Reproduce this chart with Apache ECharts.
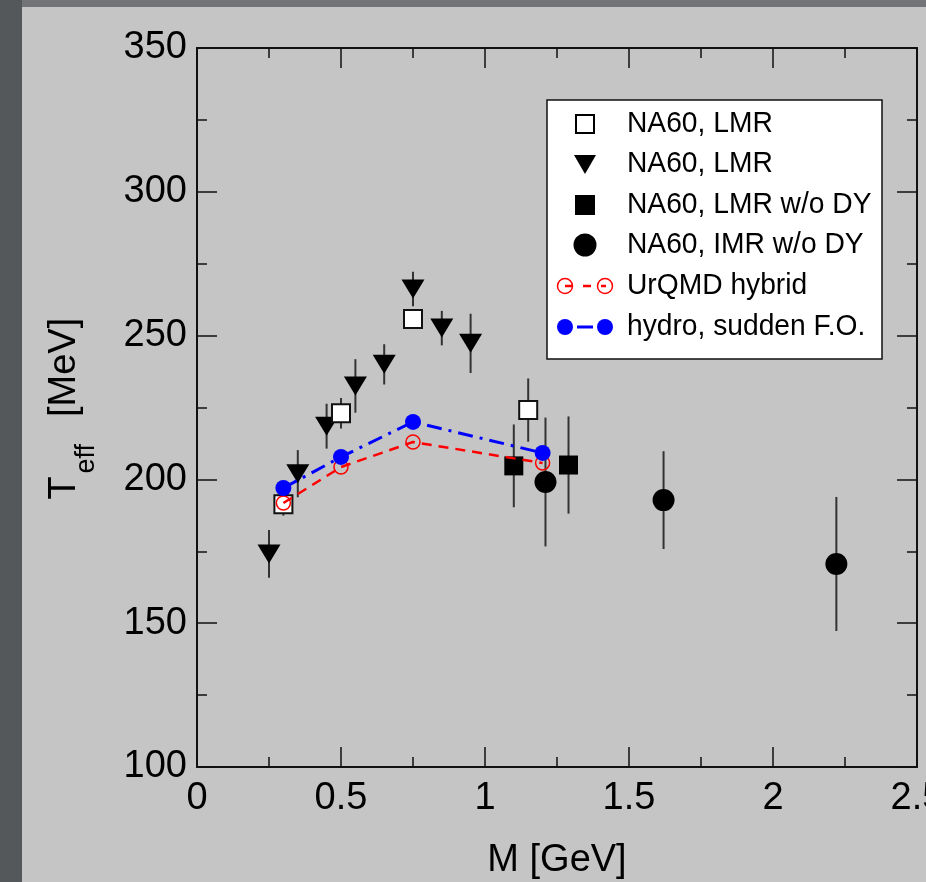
<!DOCTYPE html>
<html>
<head>
<meta charset="utf-8">
<title>Effective temperature vs. dimuon mass</title>
<script src="https://cdn.jsdelivr.net/npm/echarts@6/dist/echarts.min.js"></script>
<style>
  html, body { margin: 0; padding: 0; background: #c4c5c4; }
  #chart { width: 926px; height: 882px; }
</style>
</head>
<body>
<div id="chart"></div>
<script>
// NA60 LMR (open squares)
const lmrOpenM   = [0.30, 0.50, 0.75, 1.15];
const lmrOpenT   = [191.4, 223.0, 255.8, 224.1];
const lmrOpenErr = [4.0, 5.3, 3.0, 11.0];

// NA60 LMR (down triangles)
const lmrTriM   = [0.25, 0.35, 0.45, 0.55, 0.65, 0.75, 0.85, 0.95];
const lmrTriT   = [174.1, 202.0, 218.5, 232.5, 240.0, 266.2, 252.6, 247.3];
const lmrTriErr = [8.3, 8.2, 7.8, 9.3, 7.0, 6.0, 6.0, 10.3];

// NA60 LMR w/o DY (filled squares)
const lmrNoDyM   = [1.10, 1.29];
const lmrNoDyT   = [204.7, 205.0];
const lmrNoDyErr = [14.4, 16.9];

// NA60 IMR w/o DY (filled circles)
const imrNoDyM   = [1.21, 1.62, 2.22];
const imrNoDyT   = [199.1, 192.8, 170.6];
const imrNoDyErr = [22.4, 17.0, 23.3];

// Model curves
const urqmdM = [0.30, 0.50, 0.75, 1.20];
const urqmdT = [191.8, 204.3, 213.0, 205.7];
const hydroM = [0.30, 0.50, 0.75, 1.20];
const hydroT = [197.0, 207.8, 220.0, 209.2];

// Axis ticks
const xTicks = { min: 0, max: 2.5, interval: 0.5 };
const yTicks = { min: 100, max: 350, interval: 50 };

const FONT = '"Liberation Sans", Arial, Helvetica, sans-serif';
const AXIS_COLOR = '#111';

const pairs = (xs, ys) => xs.map((x, i) => [x, ys[i]]);
const bars = (xs, ys, es) => xs.map((x, i) => [x, ys[i] - es[i], ys[i] + es[i]]);

function errorBarSeries(data) {
  return {
    type: 'custom',
    z: 1,
    silent: true,
    data: data,
    encode: { x: 0, y: [1, 2] },
    renderItem: function (params, api) {
      const lo = api.coord([api.value(0), api.value(1)]);
      const hi = api.coord([api.value(0), api.value(2)]);
      return {
        type: 'line',
        shape: { x1: lo[0], y1: lo[1], x2: hi[0], y2: hi[1] },
        style: { stroke: '#333', lineWidth: 2 }
      };
    }
  };
}

function axisCommon(range, pos, showLabel) {
  return {
    type: 'value',
    position: pos,
    min: range.min,
    max: range.max,
    interval: range.interval,
    axisLine: { show: true, onZero: false, lineStyle: { color: AXIS_COLOR, width: 2 } },
    axisTick: { show: true, inside: true, length: 20, lineStyle: { color: AXIS_COLOR, width: 1.5 } },
    minorTick: { show: true, splitNumber: 2, length: 10, lineStyle: { color: AXIS_COLOR, width: 1.5 } },
    splitLine: { show: false },
    minorSplitLine: { show: false },
    axisLabel: { show: showLabel, fontSize: 38, color: '#000', fontFamily: FONT, margin: 10 }
  };
}

const xBottom = axisCommon(xTicks, 'bottom', true);
xBottom.axisLabel.margin = 13;
xBottom.name = 'M [GeV]';
xBottom.nameLocation = 'middle';
xBottom.nameGap = 75;
xBottom.nameTextStyle = { fontSize: 38, color: '#000', fontFamily: FONT };

const yLeft = axisCommon(yTicks, 'left', true);
yLeft.axisLabel.margin = 10;

// Legend rows
const legendX = 547, legendY = 100, legendW = 335, legendH = 259;
const keyX = 585, textX = 627;
const rowY = [124, 164, 205, 245, 286, 327];
const legendLabels = ['NA60, LMR', 'NA60, LMR', 'NA60, LMR w/o DY', 'NA60, IMR w/o DY', 'UrQMD hybrid', 'hydro, sudden F.O.'];

const legendChildren = [
  { type: 'rect', shape: { x: legendX, y: legendY, width: legendW, height: legendH },
    style: { fill: '#fff', stroke: '#111', lineWidth: 1.5 } },
  // open square
  { type: 'rect', shape: { x: keyX - 9, y: rowY[0] - 9, width: 18, height: 18 },
    style: { fill: '#fff', stroke: '#000', lineWidth: 2 } },
  // down triangle
  { type: 'polygon', shape: { points: [[keyX - 11, rowY[1] - 9], [keyX + 11, rowY[1] - 9], [keyX, rowY[1] + 10]] },
    style: { fill: '#000' } },
  // filled square
  { type: 'rect', shape: { x: keyX - 10, y: rowY[2] - 10, width: 20, height: 20 }, style: { fill: '#000' } },
  // filled circle
  { type: 'circle', shape: { cx: keyX, cy: rowY[3], r: 11.5 }, style: { fill: '#000' } },
  // UrQMD key
  { type: 'line', shape: { x1: 565, y1: rowY[4], x2: 606, y2: rowY[4] },
    style: { stroke: '#ff0000', lineWidth: 2.5, lineDash: [8, 10] } },
  { type: 'circle', shape: { cx: 565, cy: rowY[4], r: 7.5 }, style: { fill: null, stroke: '#ff0000', lineWidth: 1.5 } },
  { type: 'circle', shape: { cx: 605, cy: rowY[4], r: 7.5 }, style: { fill: null, stroke: '#ff0000', lineWidth: 1.5 } },
  // hydro key
  { type: 'line', shape: { x1: 577, y1: rowY[5], x2: 593, y2: rowY[5] },
    style: { stroke: '#0000ff', lineWidth: 3 } },
  { type: 'circle', shape: { cx: 565, cy: rowY[5], r: 8 }, style: { fill: '#0000ff' } },
  { type: 'circle', shape: { cx: 605, cy: rowY[5], r: 8 }, style: { fill: '#0000ff' } }
];
legendLabels.forEach(function (label, i) {
  legendChildren.push({
    type: 'text', x: textX, y: rowY[i], scaleX: 0.94,
    style: { text: label, fontSize: 30, fontFamily: FONT, fill: '#000', align: 'left', verticalAlign: 'middle' }
  });
});

const option = {
  backgroundColor: '#c4c5c4',
  animation: false,
  grid: { left: 197, right: 9, top: 48, bottom: 115, containLabel: false, outerBoundsMode: 'none' },
  xAxis: [xBottom, axisCommon(xTicks, 'top', false)],
  yAxis: [yLeft, axisCommon(yTicks, 'right', false)],
  graphic: [
    { type: 'rect', z: -10, shape: { x: 0, y: 0, width: 926, height: 7 }, style: { fill: '#737477' } },
    { type: 'rect', z: -10, shape: { x: 0, y: 0, width: 22, height: 882 }, style: { fill: '#54585b' } },
    // y-axis title: T_eff [MeV]
    {
      type: 'group', x: 70, y: 407.5, rotation: Math.PI / 2,
      children: [
        { type: 'text', x: -92, y: -5, style: { text: 'T', fontSize: 38, fontFamily: FONT, fill: '#000', align: 'left', verticalAlign: 'middle' } },
        { type: 'text', x: -66, y: 17, style: { text: 'eff', fontSize: 27, fontFamily: FONT, fill: '#000', align: 'left', verticalAlign: 'middle' } },
        { type: 'text', x: -9.5, y: -5, style: { text: '[MeV]', fontSize: 38, fontFamily: FONT, fill: '#000', align: 'left', verticalAlign: 'middle' } }
      ]
    },
    { type: 'group', z: 100, children: legendChildren }
  ],
  series: [
    errorBarSeries(bars(lmrTriM, lmrTriT, lmrTriErr)),
    errorBarSeries(bars(lmrOpenM, lmrOpenT, lmrOpenErr)),
    errorBarSeries(bars(lmrNoDyM, lmrNoDyT, lmrNoDyErr)),
    errorBarSeries(bars(imrNoDyM, imrNoDyT, imrNoDyErr)),
    {
      name: 'NA60, LMR (triangles)', type: 'scatter', z: 3, silent: true,
      data: pairs(lmrTriM, lmrTriT),
      symbol: 'triangle', symbolSize: [23, 19], symbolRotate: 180,
      itemStyle: { color: '#000', opacity: 1 }
    },
    {
      name: 'NA60, LMR (squares)', type: 'scatter', z: 3, silent: true,
      data: pairs(lmrOpenM, lmrOpenT),
      symbol: 'rect', symbolSize: 18,
      itemStyle: { color: '#fff', borderColor: '#111', borderWidth: 2, opacity: 1 }
    },
    {
      name: 'NA60, LMR w/o DY', type: 'scatter', z: 3, silent: true,
      data: pairs(lmrNoDyM, lmrNoDyT),
      symbol: 'rect', symbolSize: 19,
      itemStyle: { color: '#000', opacity: 1 }
    },
    {
      name: 'NA60, IMR w/o DY', type: 'scatter', z: 3, silent: true,
      data: pairs(imrNoDyM, imrNoDyT),
      symbol: 'circle', symbolSize: 22,
      itemStyle: { color: '#000', opacity: 1 }
    },
    {
      name: 'UrQMD hybrid', type: 'line', z: 5, silent: true,
      data: pairs(urqmdM, urqmdT),
      symbol: 'circle', symbolSize: 14, showAllSymbol: true,
      lineStyle: { color: '#ff0000', width: 2.5, type: [10, 7] },
      itemStyle: { color: 'rgba(0,0,0,0)', borderColor: '#ff0000', borderWidth: 1.5 }
    },
    {
      name: 'hydro, sudden F.O.', type: 'line', z: 6, silent: true,
      data: pairs(hydroM, hydroT),
      symbol: 'circle', symbolSize: 16, showAllSymbol: true,
      lineStyle: { color: '#0000ff', width: 3, type: [15, 7, 3, 7] },
      itemStyle: { color: '#0000ff', borderWidth: 0 }
    }
  ]
};

const chart = echarts.init(document.getElementById('chart'), null, { renderer: 'canvas' });
chart.setOption(option);
</script>
</body>
</html>
